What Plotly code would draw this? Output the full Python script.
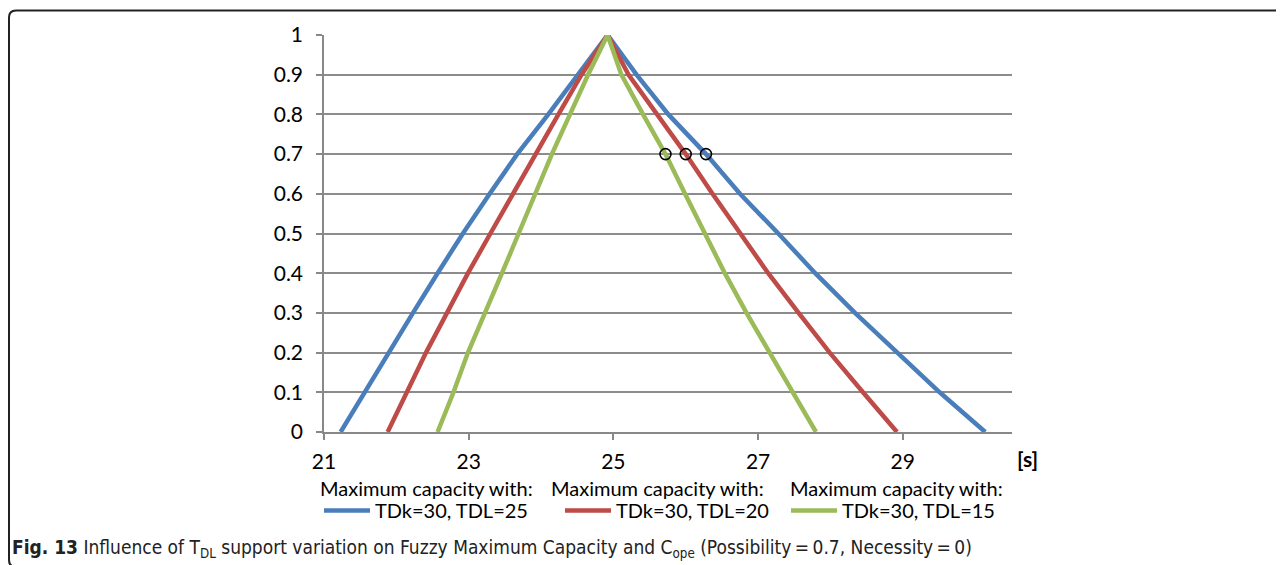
import plotly.graph_objects as go

# ---- data ----
levels = [0, 0.1, 0.2, 0.3, 0.4, 0.5, 0.6, 0.7, 0.8, 0.9, 1.0]

blue_left = [21.23, 21.56, 21.89, 22.23, 22.57, 22.92, 23.29, 23.67, 24.10, 24.51, 24.92]
blue_right = [30.14, 29.51, 28.92, 28.34, 27.79, 27.28, 26.75, 26.28, 25.76, 25.32, 24.92]
red_left = [21.88, 22.14, 22.41, 22.70, 22.99, 23.30, 23.61, 23.92, 24.24, 24.56, 24.92]
red_right = [28.92, 28.45, 27.99, 27.56, 27.14, 26.75, 26.37, 26.00, 25.60, 25.21, 24.92]
green_left = [22.57, 22.79, 22.99, 23.23, 23.46, 23.69, 23.92, 24.15, 24.40, 24.65, 24.92]
green_right = [27.80, 27.48, 27.16, 26.84, 26.54, 26.27, 25.99, 25.72, 25.41, 25.11, 24.92]

circle_x = [25.72, 26.00, 26.28]
circle_y = [0.7, 0.7, 0.7]

series_names = ["TDk=30, TDL=25", "TDk=30, TDL=20", "TDk=30, TDL=15"]
legend_title = "Maximum capacity with:"
x_ticks = [21, 23, 25, 27, 29]
caption = ("<b>Fig. 13</b> Influence of T<sub>DL</sub> support variation on Fuzzy Maximum "
           "Capacity and C<sub>ope</sub> (Possibility\u2009=\u20090.7, Necessity\u2009=\u20090)")

colors = ["#4a7ebb", "#be4b48", "#9bbb59"]

# ---- geometry (page pixels; the page body adds an 8px offset) ----
OFF = 8
W, H = 1284 - OFF, 565 - OFF
L, R, T, B = 324, 1012, 35, 432   # plot area in page pixels


def px(x):
    return (x - L) / (R - L)


def py(y):
    return (B - y) / (B - T)


FONT = "Lato, Carlito, Calibri, sans-serif"
fig = go.Figure()

pairs = [(blue_left, blue_right), (red_left, red_right), (green_left, green_right)]
legends = ["legend", "legend2", "legend3"]
for (lft, rgt), name, col, lg in zip(pairs, series_names, colors, legends):
    xs = lft + rgt[::-1][1:]
    ys = levels + levels[::-1][1:]
    fig.add_trace(go.Scatter(x=xs, y=ys, mode="lines", name=name,
                             line=dict(color=col, width=4.5), legend=lg))

fig.add_trace(go.Scatter(x=circle_x, y=circle_y, mode="markers", showlegend=False,
                         marker=dict(symbol="circle-open", size=11, color="black",
                                     line=dict(width=1.6, color="black"))))

leg_common = dict(orientation="h", yanchor="middle", xanchor="left",
                  font=dict(family=FONT, size=20, color="#000"),
                  bgcolor="rgba(0,0,0,0)", itemwidth=46, borderwidth=0)
leg_x_px = [319, 560, 786]
fig.update_layout(
    legend=dict(x=px(leg_x_px[0]), y=py(510.5), **leg_common),
    legend2=dict(x=px(leg_x_px[1]), y=py(510.5), **leg_common),
    legend3=dict(x=px(leg_x_px[2]), y=py(510.5), **leg_common),
)

annotations = []
for cx in [426, 657, 896]:
    annotations.append(dict(x=px(cx), y=py(487.5), xref="paper", yref="paper",
                            text=legend_title, showarrow=False, xanchor="center",
                            yanchor="middle", font=dict(family=FONT, size=20, color="#000")))
annotations.append(dict(x=px(1015), y=py(459), xref="paper", yref="paper", text="<b>[s]</b>",
                        showarrow=False, xanchor="left", yanchor="middle",
                        font=dict(family=FONT, size=21, color="#000")))
annotations.append(dict(x=px(10), y=py(548), xref="paper", yref="paper", text=caption,
                        showarrow=False, xanchor="left", yanchor="middle",
                        font=dict(family="Liberation Sans Narrow, DejaVu Sans Condensed, sans-serif",
                                  size=19, color="#222")))

# border frame (rounded left corners, runs off the right and bottom edges)
x0, x1 = px(9), px(1284)
y0, y1 = py(567), py(10.5)
rx, ry = 7 / (R - L), 7 / (B - T)
path = (f"M {x1},{y1} L {x0 + rx},{y1} Q {x0},{y1} {x0},{y1 - ry} "
        f"L {x0},{y0 + ry} Q {x0},{y0} {x0 + rx},{y0} L {x1},{y0}")

fig.update_layout(
    width=W, height=H,
    margin=dict(l=L - OFF, r=W - (R - OFF), t=T - OFF, b=H - (B - OFF)),
    plot_bgcolor="white", paper_bgcolor="white",
    annotations=annotations,
    shapes=[dict(type="path", path=path, xref="paper", yref="paper",
                 line=dict(color="#222", width=2))],
    xaxis=dict(range=[21, 30.51], tickvals=x_ticks, showgrid=False, zeroline=False,
               showline=True, linecolor="#888", linewidth=1.5,
               ticks="outside", ticklen=6, tickcolor="#888", tickwidth=1.5,
               ticklabelstandoff=4,
               tickfont=dict(family=FONT, size=21, color="#000")),
    yaxis=dict(range=[0, 1], dtick=0.1, showgrid=True, gridcolor="#8c8c8c", gridwidth=1.5,
               zeroline=False, showline=True, linecolor="#888", linewidth=1.5,
               ticks="outside", ticklen=6, tickcolor="#888", tickwidth=1.5,
               ticklabelstandoff=9,
               tickfont=dict(family=FONT, size=21, color="#000")),
)

fig.write_html("out.html")
